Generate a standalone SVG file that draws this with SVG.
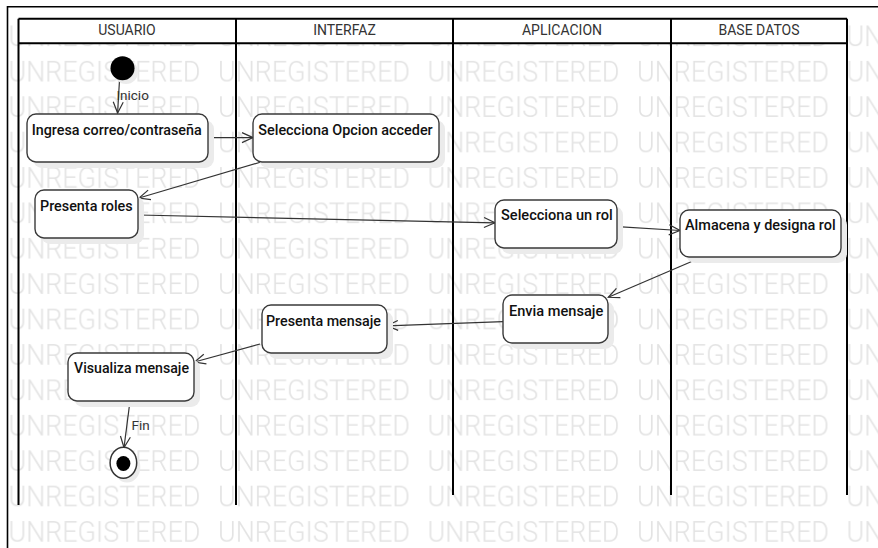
<svg xmlns="http://www.w3.org/2000/svg" width="878" height="548" viewBox="0 0 878 548">
<style>
.wm{font-family:Roboto,"Liberation Sans",sans-serif;font-size:29px;font-weight:300;fill:#e3e3e3}
.lane{stroke:#000;stroke-width:2;fill:none}
.hdr{font-family:Roboto,"Liberation Sans",sans-serif;font-size:14px;fill:#333;text-anchor:middle}
.box{fill:#fff;stroke:#3a3a3a;stroke-width:1.4}
.shd{fill:#ebebeb}
.lbl{font-family:Roboto,"Liberation Sans",sans-serif;font-size:15px;font-weight:500;fill:#111}
.edge{stroke:#333;stroke-width:1.2;fill:none;marker-end:url(#arr)}
.elbl{font-family:Roboto,"Liberation Sans",sans-serif;font-size:13.5px;fill:#333}
</style>
<defs>
<pattern id="wmp" patternUnits="userSpaceOnUse" x="8.5" y="54" width="209.5" height="35.4">
<text class="wm" x="0" y="28" textLength="192" lengthAdjust="spacingAndGlyphs">UNREGISTERED</text>
</pattern>
<marker id="arr" markerWidth="14" markerHeight="12" refX="12" refY="6" orient="auto" markerUnits="userSpaceOnUse">
<path d="M1,1 L12,6 L1,11" fill="none" stroke="#333" stroke-width="1.2"/>
</marker>
</defs>
<rect x="0" y="0" width="878" height="548" fill="#fff"/>
<rect x="8" y="18" width="870" height="530" fill="url(#wmp)"/>
<g id="frame">
<path d="M7.5,548 V6.7 H878" fill="none" stroke="#000" stroke-width="1.6"/>
<rect x="18.5" y="18.7" width="828.5" height="24.6" fill="#fff"/>
<path class="lane" d="M18.5,18.7 H847 M18.5,43.3 H847"/>
<path class="lane" d="M18.5,18.7 V505 M236,18.7 V505 M453,18.7 V495 M671,18.7 V495 M847,18.7 V495"/>
<text class="hdr" x="127" y="35">USUARIO</text>
<text class="hdr" x="344.5" y="35">INTERFAZ</text>
<text class="hdr" x="562" y="35">APLICACION</text>
<text class="hdr" x="759" y="35">BASE DATOS</text>
</g>
<g id="connectors">
<path class="edge" d="M119.5,80 L117.6,113"/>
<text class="elbl" x="116.4" y="99.5">Inicio</text>
<path class="edge" d="M208,137.6 L253,137.6"/>
<path class="edge" d="M261,162 L139,198"/>
<path class="edge" d="M138.5,215 L495,222.8"/>
<path class="edge" d="M617.5,226.7 L680,230.5"/>
<path class="edge" d="M701,257.5 L608.3,297.3"/>
<path class="edge" d="M503,321.7 L387,325.8"/>
<path class="edge" d="M260,344 L194.5,362"/>
<path class="edge" d="M130,401 L124,447.5"/>
<text class="elbl" x="131.5" y="430">Fin</text>
</g>
<g id="start">
<circle cx="126" cy="72" r="12" class="shd"/>
<circle cx="122.5" cy="68.3" r="12" fill="#000"/>
</g>
<g id="n1">
<rect class="shd" x="33" y="120" width="181" height="48" rx="9"/>
<rect class="box" x="27" y="114" width="181" height="48" rx="9"/>
<text class="lbl" x="31.7" y="135" textLength="170" lengthAdjust="spacingAndGlyphs">Ingresa correo/contraseña</text>
</g>
<g id="n2">
<rect class="shd" x="259" y="120" width="186" height="48" rx="9"/>
<rect class="box" x="253" y="114" width="186" height="48" rx="9"/>
<text class="lbl" x="258.3" y="134.5" textLength="174.4" lengthAdjust="spacingAndGlyphs">Selecciona Opcion acceder</text>
</g>
<g id="n3">
<rect class="shd" x="41" y="196" width="103" height="48" rx="9"/>
<rect class="box" x="35" y="190" width="103" height="48" rx="9"/>
<text class="lbl" x="40" y="210.7" textLength="92.7" lengthAdjust="spacingAndGlyphs">Presenta roles</text>
</g>
<g id="n4">
<rect class="shd" x="501" y="206" width="122" height="48" rx="9"/>
<rect class="box" x="495" y="200" width="122" height="48" rx="9"/>
<text class="lbl" x="501" y="220" textLength="111.7" lengthAdjust="spacingAndGlyphs">Selecciona un rol</text>
</g>
<g id="n5">
<rect class="shd" x="686" y="216" width="161" height="47" rx="9"/>
<rect class="box" x="680" y="210" width="161" height="47" rx="9"/>
<text class="lbl" x="685" y="230" textLength="150.7" lengthAdjust="spacingAndGlyphs">Almacena y designa rol</text>
</g>
<g id="n6">
<rect class="shd" x="509" y="301" width="105" height="48" rx="9"/>
<rect class="box" x="503" y="295" width="105" height="48" rx="9"/>
<text class="lbl" x="509" y="316" textLength="94.3" lengthAdjust="spacingAndGlyphs">Envia mensaje</text>
</g>
<g id="n7">
<rect class="shd" x="268" y="311" width="125" height="48" rx="9"/>
<rect class="box" x="262" y="305" width="125" height="48" rx="9"/>
<text class="lbl" x="266" y="325.7" textLength="115" lengthAdjust="spacingAndGlyphs">Presenta mensaje</text>
</g>
<g id="n8">
<rect class="shd" x="74" y="359" width="126" height="48" rx="9"/>
<rect class="box" x="68" y="353" width="126" height="48" rx="9"/>
<text class="lbl" x="74" y="372.7" textLength="115" lengthAdjust="spacingAndGlyphs">Visualiza mensaje</text>
</g>
<g id="end">
<ellipse cx="127" cy="467" rx="13.3" ry="15.5" class="shd"/>
<ellipse cx="123.4" cy="462.8" rx="13.3" ry="15.5" fill="#fff" stroke="#333" stroke-width="1.5"/>
<ellipse cx="123.4" cy="463.5" rx="7" ry="7.5" fill="#000"/>
</g>
</svg>
